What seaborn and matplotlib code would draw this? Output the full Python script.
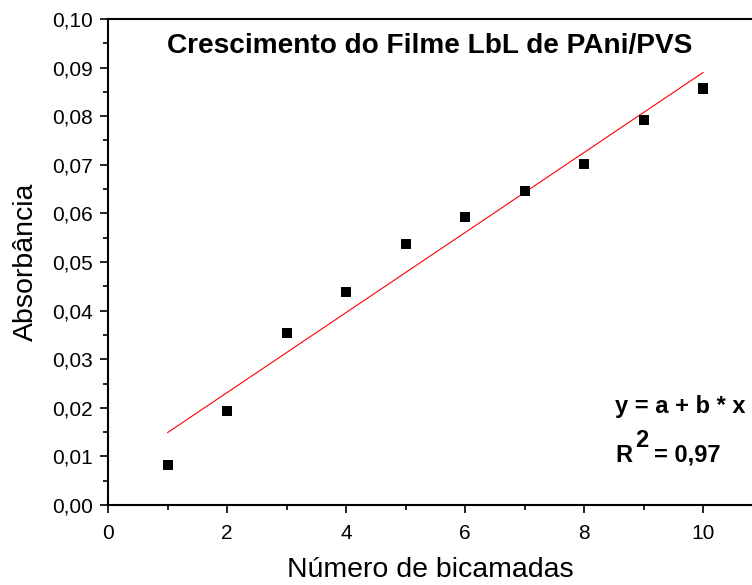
import numpy as np
import pandas as pd
import seaborn as sns
import matplotlib
matplotlib.use("Agg")
import matplotlib.pyplot as plt
from matplotlib.ticker import FuncFormatter, MultipleLocator

# Absorbance of the PAni/PVS LbL film versus number of bilayers
bicamadas = [1, 2, 3, 4, 5, 6, 7, 8, 9, 10]
absorbancia = [0.0082, 0.0193, 0.0353, 0.0439, 0.0538, 0.0593, 0.0646, 0.0702, 0.0792, 0.0857]

titulo = "Crescimento do Filme LbL de PAni/PVS"
rotulo_x = "Número de bicamadas"
rotulo_y = "Absorbância"

df = pd.DataFrame({"n": bicamadas, "abs": absorbancia})

sns.set_theme(style="ticks")
plt.rcParams["font.family"] = ["Liberation Sans", "DejaVu Sans"]
plt.rcParams["text.color"] = "black"
plt.rcParams["axes.labelcolor"] = "black"

fig = plt.figure(figsize=(7.52, 5.85), dpi=100)
ax = fig.add_axes([108 / 752, 80 / 585, 1 - 108 / 752, 486 / 585])

sns.regplot(data=df, x="n", y="abs", ax=ax, ci=None, truncate=True,
            marker="s", color="black",
            scatter_kws=dict(s=52, color="black", alpha=1, edgecolors="none", zorder=3),
            line_kws=dict(color="red", lw=0.8, alpha=1, zorder=2))

# R² of the linear fit
coef = np.polyfit(bicamadas, absorbancia, 1)
pred = np.polyval(coef, bicamadas)
y_arr = np.asarray(absorbancia)
r2 = 1 - np.sum((y_arr - pred) ** 2) / np.sum((y_arr - y_arr.mean()) ** 2)

ax.set_xlim(0, 10.82)
ax.set_ylim(0, 0.10)
ax.xaxis.set_major_locator(MultipleLocator(2))
ax.xaxis.set_minor_locator(MultipleLocator(1))
ax.yaxis.set_major_locator(MultipleLocator(0.01))
ax.yaxis.set_minor_locator(MultipleLocator(0.005))
ax.yaxis.set_major_formatter(FuncFormatter(lambda v, p: f"{v:.2f}".replace(".", ",")))
ax.xaxis.set_major_formatter(FuncFormatter(lambda v, p: f"{v:.0f}"))

for s in ("left", "bottom", "top"):
    ax.spines[s].set_linewidth(1.5)
    ax.spines[s].set_color("black")
ax.spines["right"].set_visible(False)

ax.tick_params(which="major", direction="out", length=6, width=1.2,
               labelsize=15, colors="black")
ax.tick_params(axis="x", which="major", pad=8)
ax.tick_params(axis="y", which="major", pad=5)
ax.tick_params(which="minor", direction="out", length=3.5, width=1.2, colors="black")
ax.tick_params(top=False, right=False, which="both")

ax.set_xlabel(rotulo_x, fontsize=20.5, labelpad=10)
ax.set_ylabel(rotulo_y, fontsize=20.5, labelpad=9)

ax.text(0.5, 0.945, titulo, transform=ax.transAxes, ha="center", va="center",
        fontsize=20.2, fontweight="bold")

# Fit equation and coefficient of determination
eq_kw = dict(fontsize=17, fontweight="bold", va="baseline", ha="left")
ax.text(8.52, 0.0189, "y = a + b * x", **eq_kw)
ax.text(8.52, 0.0089, "R", **eq_kw)
ax.text(8.86, 0.0120, "2", **eq_kw)
ax.text(9.18, 0.0089, f"= {r2:.2f}".replace(".", ","), **eq_kw)

fig.savefig("out.png", dpi=100)
